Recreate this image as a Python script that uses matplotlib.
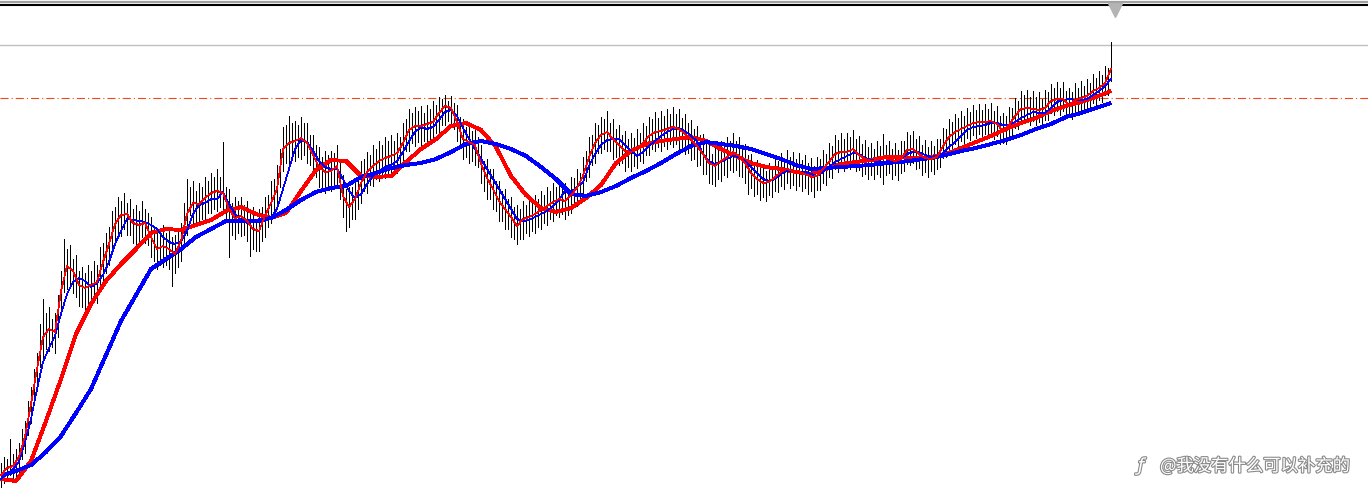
import matplotlib
matplotlib.use('Agg')
import matplotlib.pyplot as plt
import matplotlib.patheffects as pe
import numpy as np

plt.rcParams['lines.scale_dashes'] = False

# bar highs / lows (one bar every 3 px in the original chart)
high = [36, 42, 40, 60, 45, 50, 56, 70, 78, 98,
        112, 130, 146, 175, 200, 186, 192, 180, 186, 204,
        228, 260, 250, 254, 240, 244, 228, 232, 226, 234,
        228, 238, 234, 252, 256, 266, 272, 288, 292, 302,
        298, 306, 296, 300, 290, 294, 288, 298, 290, 286,
        282, 270, 270, 264, 274, 266, 270, 262, 264, 268,
        276, 296, 320, 312, 318, 308, 316, 312, 322, 318,
        326, 322, 330, 322, 357, 312, 310, 296, 302, 298,
        302, 294, 298, 288, 292, 280, 290, 292, 302, 304,
        318, 320, 334, 350, 372, 374, 383, 376, 378, 374,
        382, 376, 376, 364, 364, 354, 352, 342, 348, 344,
        348, 346, 354, 336, 324, 310, 312, 312, 320, 322,
        338, 340, 347, 344, 354, 350, 358, 354, 362, 358,
        364, 358, 366, 362, 376, 380, 390, 386, 392, 388,
        393, 386, 394, 390, 398, 394, 402, 400, 404, 398,
        403, 396, 394, 382, 380, 372, 377, 368, 374, 362,
        354, 338, 340, 330, 330, 318, 318, 308, 310, 300,
        302, 292, 294, 290, 298, 294, 302, 296, 304, 300,
        308, 304, 312, 308, 316, 312, 318, 311, 316, 311,
        322, 321, 330, 326, 342, 348, 362, 364, 376, 374,
        382, 380, 388, 376, 380, 370, 374, 364, 368, 360,
        366, 361, 370, 366, 376, 373, 382, 380, 387, 381,
        388, 383, 390, 385, 392, 385, 390, 381, 385, 376,
        379, 370, 373, 364, 365, 355, 356, 345, 353, 350,
        358, 354, 362, 358, 366, 358, 362, 352, 355, 344,
        345, 335, 339, 331, 335, 328, 336, 332, 341, 338,
        346, 341, 349, 342, 347, 340, 346, 339, 344, 336,
        341, 333, 342, 340, 349, 345, 356, 353, 364, 359,
        366, 360, 366, 362, 369, 360, 363, 355, 359, 352,
        356, 350, 358, 353, 365, 354, 358, 350, 356, 349,
        358, 358, 367, 364, 368, 360, 363, 354, 359, 352,
        358, 353, 360, 360, 371, 370, 380, 377, 385, 381,
        388, 383, 391, 387, 394, 389, 395, 389, 395, 390,
        396, 388, 393, 383, 386, 383, 392, 391, 401, 398,
        408, 404, 409, 402, 408, 402, 407, 400, 409, 407,
        415, 411, 417, 411, 417, 408, 411, 407, 416, 411,
        418, 413, 420, 416, 425, 421, 428, 424, 433, 431,
        457]
low = [12, 16, 18, 24, 19, 22, 26, 40, 46, 64,
       76, 94, 108, 132, 138, 150, 148, 152, 146, 162,
       188, 207, 210, 212, 206, 202, 193, 192, 190, 196,
       194, 198, 196, 212, 216, 226, 234, 248, 254, 264,
       263, 270, 264, 264, 256, 254, 254, 262, 256, 254,
       242, 238, 230, 234, 232, 234, 230, 213, 226, 232,
       238, 256, 264, 284, 276, 276, 274, 280, 280, 286,
       286, 290, 288, 292, 288, 280, 242, 264, 260, 266,
       263, 264, 258, 243, 250, 248, 248, 258, 262, 272,
       276, 287, 290, 312, 328, 336, 334, 340, 338, 342,
       340, 344, 336, 334, 324, 322, 312, 312, 306, 310,
       308, 314, 312, 300, 282, 268, 272, 280, 280, 290,
       296, 308, 306, 314, 313, 320, 318, 324, 321, 326,
       323, 328, 326, 332, 336, 348, 348, 356, 353, 357,
       353, 358, 356, 360, 358, 366, 366, 374, 374, 378,
       374, 370, 358, 352, 340, 342, 336, 338, 334, 332,
       316, 308, 300, 300, 290, 288, 278, 278, 270, 270,
       262, 260, 255, 260, 260, 266, 263, 268, 266, 272,
       270, 276, 274, 280, 278, 284, 282, 285, 280, 284,
       286, 294, 293, 298, 304, 318, 322, 334, 336, 346,
       346, 350, 348, 348, 340, 342, 334, 336, 328, 332,
       328, 333, 331, 338, 336, 344, 344, 350, 348, 352,
       348, 353, 350, 355, 352, 355, 350, 351, 345, 346,
       339, 340, 333, 334, 325, 325, 316, 315, 313, 320,
       318, 324, 322, 329, 327, 329, 323, 322, 316, 305,
       311, 303, 305, 299, 302, 298, 304, 302, 308, 307,
       313, 310, 316, 311, 314, 309, 313, 308, 311, 305,
       308, 302, 309, 309, 316, 314, 322, 321, 330, 327,
       332, 328, 332, 330, 335, 328, 329, 323, 325, 320,
       324, 320, 325, 322, 315, 324, 326, 320, 324, 319,
       326, 328, 335, 334, 336, 330, 331, 324, 327, 322,
       328, 325, 330, 332, 341, 342, 350, 349, 355, 353,
       358, 355, 361, 359, 364, 361, 365, 361, 365, 362,
       366, 360, 363, 355, 356, 355, 362, 363, 371, 370,
       378, 376, 379, 374, 378, 374, 377, 372, 379, 379,
       386, 384, 388, 384, 388, 381, 382, 380, 387, 384,
       389, 386, 391, 389, 396, 394, 399, 397, 404, 404,
       418]

# slow moving averages, one value every 5 bars
ma_slow_blue = [23, 28, 34, 47, 63, 86, 110, 144, 178, 204, 230, 240, 250, 262, 270,
                278, 278, 278, 281, 289, 299, 307, 311, 313, 322, 326, 331, 334, 336, 340,
                347, 355, 358, 355, 350, 343, 332, 320, 305, 303, 307, 313, 321, 328, 336,
                345, 353, 357, 355, 353, 350, 345, 340, 334, 330, 331, 332, 333, 334, 336,
                337, 339, 341, 344, 348, 351, 355, 359, 364, 370, 375, 382, 386, 391, 396]
ma_mid_red = [20, 18, 38, 78, 120, 165, 195, 218, 235, 250, 266, 270, 269, 274, 279,
              288, 292, 285, 281, 286, 308, 329, 339, 338, 323, 322, 323, 337, 350, 360,
              373, 376, 369, 352, 323, 304, 291, 287, 291, 301, 314, 336, 348, 355, 358,
              360, 362, 358, 350, 343, 336, 332, 330, 327, 325, 330, 335, 337, 339, 342,
              342, 341, 342, 345, 351, 357, 363, 370, 376, 381, 388, 393, 397, 402, 408]

# fast moving averages, one value every 2 bars
ma_fast_red = [24, 31, 33, 42, 63, 95, 130, 162, 170, 167, 208, 233, 228, 214, 211,
               214, 217, 237, 255, 275, 284, 285, 276, 274, 276, 262, 250, 253, 250, 245,
               258, 285, 296, 295, 301, 306, 308, 306, 290, 281, 283, 278, 270, 268, 283,
               296, 310, 350, 356, 358, 361, 356, 344, 332, 327, 328, 333, 303, 292, 300,
               316, 327, 333, 338, 341, 343, 346, 356, 369, 373, 373, 375, 377, 386, 393,
               391, 377, 360, 357, 354, 335, 321, 310, 298, 290, 282, 273, 280, 282, 285,
               289, 293, 297, 300, 298, 304, 311, 323, 342, 356, 364, 367, 360, 354, 348,
               347, 350, 356, 363, 367, 368, 370, 372, 370, 365, 359, 353, 345, 336, 333,
               338, 342, 347, 343, 336, 326, 320, 316, 317, 322, 327, 330, 328, 327, 325,
               322, 323, 330, 337, 345, 347, 347, 350, 344, 340, 338, 339, 341, 340, 338,
               340, 349, 350, 345, 341, 340, 342, 353, 362, 367, 370, 373, 376, 377, 377,
               378, 375, 368, 374, 383, 390, 391, 390, 389, 391, 398, 400, 400, 394, 399,
               401, 403, 408, 411, 416, 430]
ma_fast_blue = [20, 25, 30, 37, 57, 80, 110, 137, 151, 163, 185, 205, 217, 221, 218,
                212, 216, 224, 237, 255, 268, 280, 279, 278, 277, 274, 270, 262, 257, 255,
                258, 268, 285, 294, 296, 300, 300, 307, 295, 285, 279, 276, 277, 277, 278,
                281, 290, 310, 330, 350, 359, 357, 348, 338, 332, 330, 330, 320, 308, 301,
                305, 315, 323, 328, 332, 334, 338, 347, 358, 367, 372, 370, 372, 379, 387,
                389, 383, 371, 360, 350, 340, 330, 320, 310, 300, 290, 280, 278, 279, 282,
                285, 288, 293, 299, 308, 307, 312, 317, 333, 345, 354, 359, 360, 360, 354,
                348, 343, 347, 353, 358, 363, 367, 370, 371, 368, 363, 358, 345, 338, 335,
                337, 340, 343, 342, 338, 332, 326, 320, 318, 320, 325, 328, 328, 327, 327,
                325, 323, 327, 332, 337, 340, 343, 346, 345, 341, 339, 338, 337, 338, 338,
                340, 345, 347, 347, 344, 342, 343, 346, 352, 357, 363, 369, 372, 373, 374,
                376, 376, 374, 374, 377, 381, 384, 387, 386, 386, 391, 397, 399, 400, 399,
                399, 400, 404, 408, 413, 420]

level_line = 454
dash_line = 401

fig = plt.figure(figsize=(13.68, 5.02), dpi=100)
fig.patch.set_facecolor('white')
ax = fig.add_axes([0, 0, 1, 1])
ax.set_axis_off()

idx = np.arange(len(high))
ax.vlines(idx, low, high, colors='black', lw=0.5, zorder=2, antialiased=False)

ax.plot(np.arange(len(ma_mid_red)) * 5, ma_mid_red, color='#ff0000', lw=2.1, zorder=3,
        solid_capstyle='butt', antialiased=False)
ax.plot(np.arange(len(ma_slow_blue)) * 5, ma_slow_blue, color='#0000ff', lw=2.1, zorder=3,
        solid_capstyle='butt', antialiased=False)
ax.plot(np.arange(len(ma_fast_blue)) * 2, ma_fast_blue, color='#0000ff', lw=0.5, zorder=4,
        antialiased=False)
ax.plot(np.arange(len(ma_fast_red)) * 2, ma_fast_red, color='#ff0000', lw=0.5, zorder=4,
        antialiased=False)

ax.axhline(level_line, color='#c0c0c0', lw=1.0, zorder=1)
ax.axhline(dash_line, color='#f04818', lw=0.8, zorder=1,
           linestyle=(0, (5.8, 2.2, 0.8, 2.2)))

# window border at the top
ax.axhline(497.5, color='#a0a0a0', lw=1.6, zorder=5)
ax.axhline(494.3, color='black', lw=1.5, zorder=5)
ax.plot([371.3], [489], marker='v', ms=10, color='#b4b4b4', mec='#b4b4b4', zorder=5)

ax.set_xlim(-1 / 3, 1367 / 3)
ax.set_ylim(-2, 500)

stroke = [pe.withStroke(linewidth=1.6, foreground='#8a8a8a')]
fig.text(1160 / 1368, 1 - 467 / 502, '@我没有什么可以补充的', color='white', fontsize=12.5,
         family=['Noto Sans CJK SC', 'DejaVu Sans'], ha='left', va='center', path_effects=stroke)
fig.text(1141 / 1368, 1 - 467 / 502, 'ƒ', color='white', fontsize=13, style='italic',
         family=['DejaVu Sans'], ha='center', va='center', path_effects=stroke)

fig.savefig('out.png', dpi=100, facecolor='white')
